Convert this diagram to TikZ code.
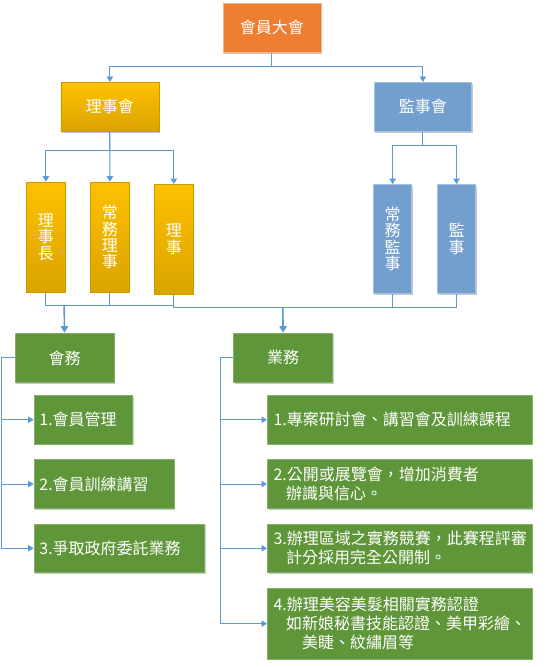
\documentclass[tikz,border=0pt]{standalone}
\usepackage{fontspec}
\setmainfont{Noto Sans CJK TC}
\usetikzlibrary{arrows.meta,shadows}
\definecolor{connc}{HTML}{5B9BD5}
\definecolor{orangef}{HTML}{ED7D31}
\definecolor{oranged}{HTML}{F4B183}
\definecolor{goldt}{HTML}{FFC000}
\definecolor{goldb}{HTML}{DAA400}
\definecolor{goldd}{HTML}{C89A00}
\definecolor{bluef}{HTML}{739FCE}
\definecolor{blued}{HTML}{A6C1E2}
\definecolor{greenf}{HTML}{5F9639}
\definecolor{greend}{HTML}{86B066}
\begin{document}
\begin{tikzpicture}[x=1pt,y=-1pt,
  base/.style={draw, line width=0.8pt, text=white, inner sep=0pt, anchor=north west,
    font=\fontsize{16}{19}\selectfont,
    drop shadow={shadow xshift=1.2pt, shadow yshift=-1.2pt, opacity=0.22, fill=black}},
  obox/.style={base, fill=orangef, draw=oranged},
  gbox/.style={base, top color=goldt, bottom color=goldb, draw=goldd},
  bbox/.style={base, fill=bluef, draw=blued},
  grbox/.style={base, fill=greenf, draw=greend},
  vtext/.style={align=center, font=\fontsize{16}{16.3}\selectfont},
  lsub/.style={grbox, text width=#1, align=left, inner xsep=5.3pt},
  rsub/.style={grbox, text width=252.4pt, align=left, inner xsep=6.2pt},
  line/.style={draw=connc, line width=0.9pt},
  arr/.style={line, -{Triangle[width=6.5pt,length=5.5pt]}},
  thickarr/.style={draw=connc, line width=1.6pt, -{Triangle[width=7.5pt,length=6.5pt]}}
]
\useasboundingbox (0,0) rectangle (545,667);

% top levels
\node[obox, minimum width=98pt, minimum height=49pt] (top) at (222.5,3) {會員大會};
\node[gbox, minimum width=98pt, minimum height=49pt] (lsh) at (60.5,82) {理事會};
\node[bbox, minimum width=97.7pt, minimum height=49pt] (jsh) at (373.6,82) {監事會};

% vertical boxes
\node[gbox, vtext, minimum width=38.2pt, minimum height=110pt] (c1) at (26.4,181.7) {理\\事\\長};
\node[gbox, vtext, minimum width=38.2pt, minimum height=110pt] (c2) at (90.4,181.7) {常\\務\\理\\事};
\node[gbox, vtext, minimum width=38.3pt, minimum height=109.7pt] (c3) at (154.3,184) {理\\事};
\node[bbox, vtext, minimum width=37.9pt, minimum height=109.3pt] (c4) at (373.3,184) {常\\務\\監\\事};
\node[bbox, vtext, minimum width=37.8pt, minimum height=109.3pt] (c5) at (437.3,184) {監\\事};

% green headers
\node[grbox, minimum width=99.1pt, minimum height=49.6pt] (hw) at (14.6,332.7) {會務};
\node[grbox, minimum width=99.1pt, minimum height=49.6pt] (yw) at (233.2,332.7) {業務};

% left items
\node[lsub=88.1pt, minimum height=48.7pt] (h1) at (33.7,395) {1.會員管理};
\node[lsub=129.5pt, minimum height=48.7pt] (h2) at (33.7,459.3) {2.會員訓練講習};
\node[lsub=159.7pt, minimum height=48.3pt] (h3) at (33.7,523.7) {3.爭取政府委託業務};

% right items
\node[rsub, minimum height=48.7pt] (y1) at (267,395) {1.專案研討會、講習會及訓練課程};
\node[rsub, minimum height=48.7pt] (y2) at (267,459.3) {2.公開或展覽會，增加消費者\\\hspace*{12.5pt}辦識與信心。};
\node[rsub, minimum height=48.3pt] (y3) at (267,523.7) {3.辦理區域之實務競賽，此賽程評審\\\hspace*{12.5pt}計分採用完全公開制。};
\node[rsub, minimum height=71pt] (y4) at (267,587.7) {4.辦理美容美髮相關實務認證\\\hspace*{12.5pt}如新娘秘書技能認證、美甲彩繪、\\\hspace*{28.5pt}美睫、紋繡眉等};

% connectors top
\draw[arr] (top.south) -- ++(0,14) -| (lsh.north);
\draw[arr] (top.south) -- ++(0,14) -| (jsh.north);
\draw[arr] (lsh.south) -- ++(0,19) -| (c1.north);
\draw[arr] (lsh.south) -- (c2.north);
\draw[arr] (lsh.south) -- ++(0,19) -| (c3.north);
\draw[arr] (jsh.south) -- ++(0,14) -| (c4.north);
\draw[arr] (jsh.south) -- ++(0,14) -| (c5.north);

% merge lines
\coordinate (m1) at (64.15,305.3);
\coordinate (m2) at (282.75,307);
\draw[line] (c1.south) |- (m1);
\draw[line] (c2.south) |- (m1);
\draw[line] (c3.south) |- (m1);
\draw[line] (c3.south) |- (m2);
\draw[line] (c4.south) |- (m2);
\draw[line] (c5.south) |- (m2);
\draw[thickarr] (m1) -- (hw.north);
\draw[thickarr] (m2) -- (yw.north);

% left branch
\draw[arr] (hw.west) -- ++(-13,0) |- (h1.west);
\draw[arr] (hw.west) -- ++(-13,0) |- (h2.west);
\draw[arr] (hw.west) -- ++(-13,0) |- (h3.west);

% right branch
\draw[arr] (yw.west) -- ++(-13.2,0) |- (y1.west);
\draw[arr] (yw.west) -- ++(-13.2,0) |- (y2.west);
\draw[arr] (yw.west) -- ++(-13.2,0) |- (y3.west);
\draw[arr] (yw.west) -- ++(-13.2,0) |- (y4.west);
\end{tikzpicture}
\end{document}
